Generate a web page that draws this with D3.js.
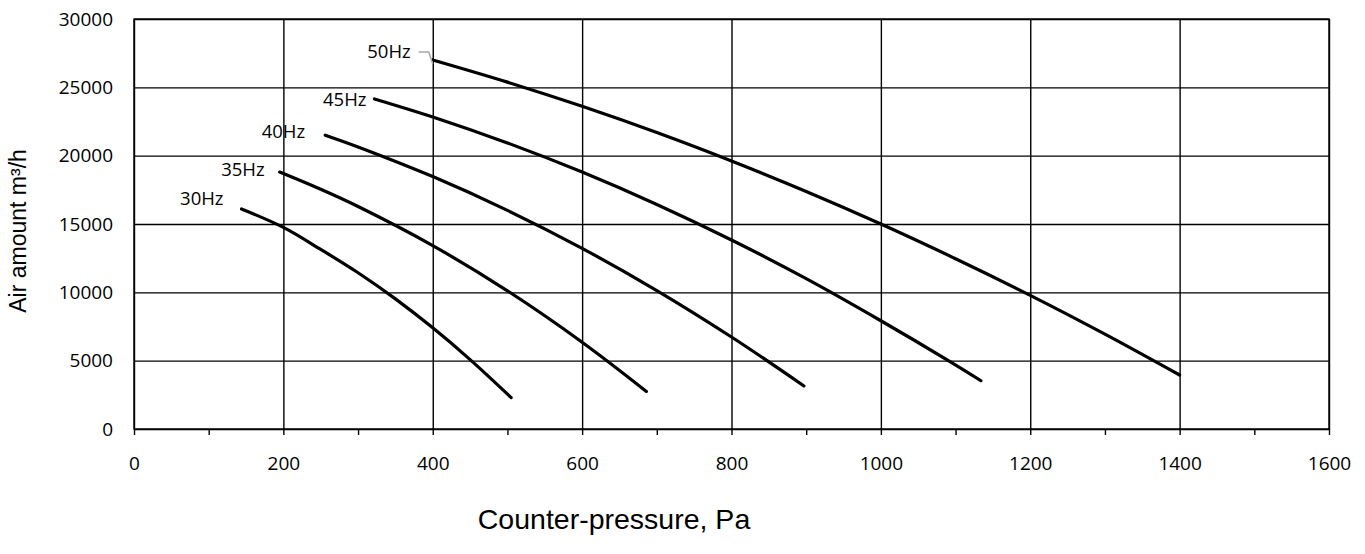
<!DOCTYPE html>
<html>
<head>
<meta charset="utf-8">
<script src="https://cdn.jsdelivr.net/npm/d3@7"></script>
<style>
  body { margin: 0; background: #fff; }
  svg { display: block; }
</style>
</head>
<body>
<div id="chart"></div>
<script>
// fan curves: [counter-pressure Pa, air amount m3/h]
const hz30 = [[144, 16100], [200, 14750], [250, 13140], [300, 11430], [350, 9520], [400, 7400], [450, 5080], [505, 2300]];
const hz35 = [[195, 18800], [250, 17540], [300, 16280], [400, 13420], [500, 10110], [600, 6350], [686, 2750]];
const hz40 = [[256, 21500], [300, 20640], [400, 18470], [500, 16000], [600, 13220], [700, 10130], [800, 6730], [897, 3150]];
const hz45 = [[322, 24150], [400, 22830], [500, 20930], [600, 18800], [700, 16430], [800, 13830], [900, 11000], [1000, 7920], [1092, 4950], [1134, 3530]];
const hz50 = [[400, 27000], [500, 25380], [600, 23610], [700, 21690], [800, 19610], [900, 17380], [1000, 15000], [1100, 12460], [1200, 9780], [1300, 6940], [1400, 3950]];

const curveNames = ['30Hz', '35Hz', '40Hz', '45Hz', '50Hz'];
const curveData = [hz30, hz35, hz40, hz45, hz50];

const pressureTicks = [0, 200, 400, 600, 800, 1000, 1200, 1400, 1600];
const flowTicks = [0, 5000, 10000, 15000, 20000, 25000, 30000];

// label placement relative to the first point of each curve (px)
const labelOffset = [[-18, -10], [-15, -3], [-20, -4], [-8, 1], [-22, -8]];

const W = 1365, H = 554;
const svg = d3.select('#chart').append('svg')
        .attr('width', W)
        .attr('height', H);

const x = d3.scaleLinear().domain([0, 1600]).range([134, 1329]);
const y = d3.scaleLinear().domain([0, 30000]).range([429, 19]);

const tickFont = "'Open Sans', sans-serif";
const titleFont = "'Liberation Sans', Arial, sans-serif";

// horizontal grid + y labels
const yAxis = svg.append('g')
        .attr('transform', `translate(${x(0)},0)`)
        .call(d3.axisLeft(y).tickValues(flowTicks).tickSize(-(x(1600) - x(0))).tickPadding(21).tickFormat(d3.format('d')));
yAxis.select('.domain').remove();
yAxis.selectAll('line').attr('stroke', '#000').attr('stroke-width', 1.4);
yAxis.selectAll('text').style('font-family', tickFont).style('font-size', '19px').attr('fill', '#000');

// vertical grid
const grid = svg.append('g')
        .attr('transform', `translate(0,${y(0)})`)
        .call(d3.axisBottom(x).tickValues(pressureTicks).tickSize(-(y(0) - y(30000))).tickFormat(''));
grid.select('.domain').remove();
grid.selectAll('line').attr('stroke', '#000').attr('stroke-width', 1.4);

// x axis ticks every 100, labels on the majors only
const xAxis = svg.append('g')
        .attr('transform', `translate(0,${y(0)})`)
        .call(d3.axisBottom(x).tickValues(d3.range(0, 1601, 100)).tickSize(6).tickPadding(22)
                .tickFormat(d => pressureTicks.includes(d) ? d : ''));
xAxis.select('.domain').remove();
xAxis.selectAll('line').attr('stroke', '#000').attr('stroke-width', 1.4);
xAxis.selectAll('text').style('font-family', tickFont).style('font-size', '19px').attr('fill', '#000');

// plot border
svg.append('rect')
        .attr('x', x(0))
        .attr('y', y(30000))
        .attr('width', x(1600) - x(0))
        .attr('height', y(0) - y(30000))
        .attr('fill', 'none')
        .attr('stroke', '#000')
        .attr('stroke-width', 1.4);

// curves
const line = d3.line()
        .x(d => x(d[0]))
        .y(d => y(d[1]))
        .curve(d3.curveCatmullRom);

svg.append('g').selectAll('path')
        .data(curveData)
        .join('path')
        .attr('d', line)
        .attr('fill', 'none')
        .attr('stroke', '#000')
        .attr('stroke-width', 3.2)
        .attr('stroke-linecap', 'round');

// curve labels
curveData.forEach((pts, i) => {
        const px = x(pts[0][0]) + labelOffset[i][0];
        const py = y(pts[0][1]) + labelOffset[i][1];
        svg.append('text')
                .attr('x', px)
                .attr('y', py)
                .attr('dy', '0.35em')
                .attr('text-anchor', 'end')
                .style('font-family', tickFont)
                .style('font-size', '18.5px')
                .attr('fill', '#000')
                .text(curveNames[i]);
        // 50Hz has a leader line back to its curve
        if (curveNames[i] === '50Hz') {
                const sx = x(pts[0][0]), sy = y(pts[0][1]);
                svg.append('path')
                        .attr('d', `M${px + 8},${py} H${px + 18} L${sx},${sy + 4}`)
                        .attr('fill', 'none')
                        .attr('stroke', '#a6a6a6')
                        .attr('stroke-width', 1.4);
        }
});

// axis titles
svg.append('text')
        .attr('transform', `translate(26,231) rotate(-90)`)
        .attr('text-anchor', 'middle')
        .style('font-family', titleFont)
        .style('font-size', '23px')
        .attr('fill', '#000')
        .text('Air amount m³/h');

svg.append('text')
        .attr('x', 614)
        .attr('y', 529)
        .attr('text-anchor', 'middle')
        .style('font-family', titleFont)
        .style('font-size', '28.5px')
        .attr('fill', '#000')
        .text('Counter-pressure, Pa');
</script>
</body>
</html>
